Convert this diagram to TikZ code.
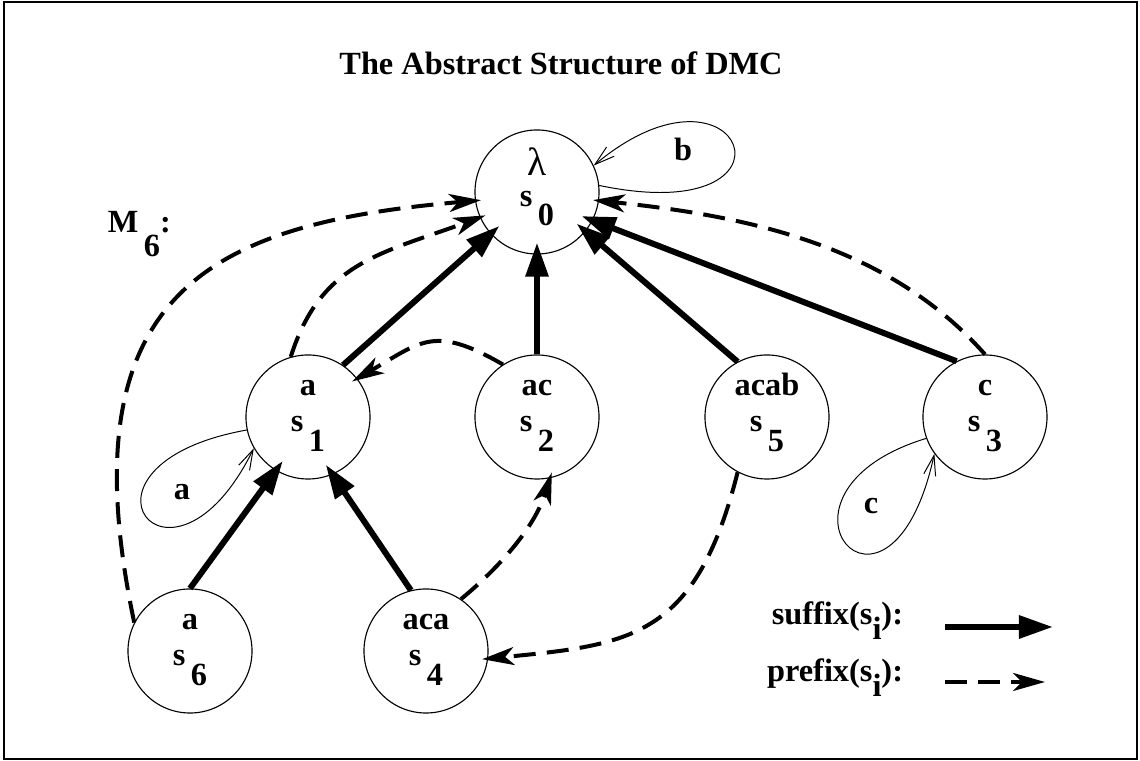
\documentclass[tikz,border=0pt]{standalone}
\usepackage{fontspec}
\setmainfont{Liberation Serif}
\usetikzlibrary{arrows.meta}

% word over s with a lowered index
\newcommand{\stlab}[2]{\rule{0pt}{18pt}#1\\s\,\raisebox{-.6em}{#2}\rule[-23pt]{0pt}{0pt}}

\begin{document}
\begin{tikzpicture}[x=0.025cm,y=0.025cm,font=\fontsize{23}{26}\selectfont\bfseries,
  state/.style={draw,circle,line width=0.8pt,minimum size=3.1cm,inner sep=0pt,align=center},
  suf/.style={line width=0.15cm,-{Triangle[length=0.85cm,width=0.55cm]},shorten >=-0.3cm},
  pre/.style={line width=0.1cm,dash pattern=on 0.55cm off 0.28cm,-{Stealth[length=0.8cm,width=0.45cm,inset=0.22cm]},shorten >=-0.15cm},
  selfloop/.style={line width=0.7pt,-{Straight Barb[length=0.5cm,width=0.3cm]}}]
\useasboundingbox (0,0) rectangle (1140,761);
\draw[line width=0.06cm] (4,2) rectangle (1137,759);
\node[anchor=base] (title) at (561,686) {The Abstract Structure of DMC};
\node[anchor=base west] (mname) at (103,528) {M\,\raisebox{-.74em}{6}:};
% states
\node[state] (s0) at (537,569) {\rule{0pt}{18pt}{\mdseries\fontsize{28}{26}\selectfont λ}\\[-4pt]s\,\raisebox{-.6em}{0}\rule[-21pt]{0pt}{0pt}};
\foreach \n/\x/\y/\w/\d in {s1/308/344/a/1,s2/537/344/ac/2,s5/767/344/acab/5,s3/985/344/c/3,s6/190/110/a/6,s4/426/110/aca/4}
  \node[state] (\n) at (\x,\y) {\stlab{\w}{\d}};
% suffix links
\foreach \a/\b in {s1.56/s0.222,s2/s0,s5.118/s0.321,s3.117/s0.333,s6.north/s1.239,s4.104/s1.293}
  \draw[suf] (\a) -- (\b);
% prefix links
\draw[pre] (s6.153) .. controls +(-70,332) and +(-263,-23) .. (s0.188);
\draw[pre] (s1.106) .. controls +(30,95) and +(-98,-36) .. (s0.204);
\draw[pre] (s2.123) .. controls +(-69,40) and +(64,37) .. (s1.38);
\draw[pre] (s3.north) .. controls +(-98,111) and +(144,-15) .. (s0.352);
\draw[pre] (s4.56) .. controls +(40,33) and +(-15,-48) .. (s2.282);
\draw[pre] (s5.242) .. controls +(-42,-166) and +(143,14) .. (s4.353);
% loops
\draw[selfloop] (s0.6) .. controls +(215,-45) and +(150,125) .. (s0.25);
\draw[selfloop] (s1.192) .. controls +(-195,-35) and +(-84,-170) .. (s1.210);
\draw[selfloop] (s3.200) .. controls +(-180,-55) and +(-45,-205) .. (s3.216);
\node (lb) at (683,612) {b};
\node (la) at (182,269) {a};
\node (lc) at (871,255) {c};
% key
\node[anchor=base east] (sufkey) at (908,136) {suffix(s\raisebox{-.45em}{i}):};
\node[anchor=base east] (prekey) at (908,79) {prefix(s\raisebox{-.45em}{i}):};
\coordinate (sufA) at (945,134);
\coordinate (sufB) at (1053,134);
\coordinate (preA) at (945,79);
\coordinate (preB) at (1045,79);
\draw[suf,shorten >=0pt] (sufA) -- (sufB);
\draw[pre,shorten >=0pt] (preA) -- (preB);
\end{tikzpicture}
\end{document}
